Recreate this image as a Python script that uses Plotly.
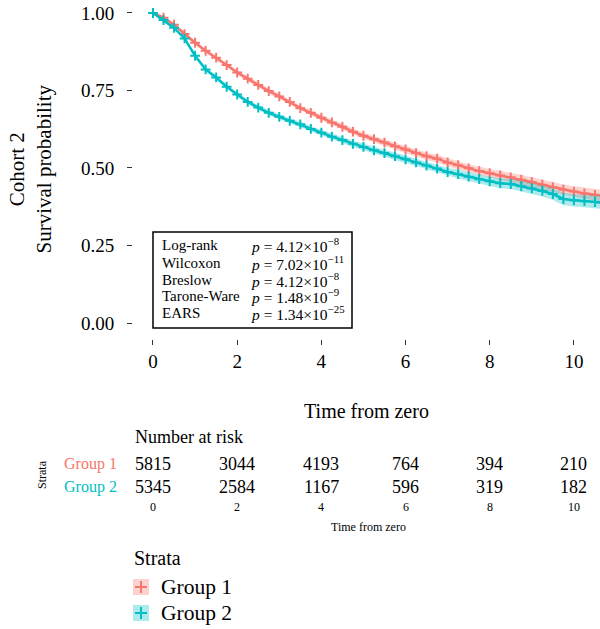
import plotly.graph_objects as go

# ---------------- data ----------------
times = [0, 0.25, 0.5, 0.75, 1.0, 1.25, 1.5, 1.75, 2.0, 2.25, 2.5, 2.75, 3.0, 3.25, 3.5, 3.75,
         4.0, 4.25, 4.5, 4.75, 5.0, 5.25, 5.5, 5.75, 6.0, 6.25, 6.5, 6.75, 7.0, 7.25, 7.5, 7.75,
         8.0, 8.25, 8.5, 8.75, 9.0, 9.25, 9.5, 9.75, 10.0, 10.25, 10.5, 10.65]
surv_g1 = [1.000, 0.985, 0.962, 0.932, 0.904, 0.878, 0.856, 0.832, 0.808, 0.788, 0.768, 0.748,
           0.731, 0.713, 0.693, 0.678, 0.662, 0.647, 0.633, 0.617, 0.604, 0.593, 0.582, 0.570,
           0.560, 0.548, 0.538, 0.530, 0.518, 0.509, 0.499, 0.490, 0.483, 0.476, 0.470, 0.462,
           0.454, 0.446, 0.438, 0.430, 0.424, 0.418, 0.413, 0.412]
surv_g2 = [1.000, 0.977, 0.952, 0.918, 0.862, 0.818, 0.792, 0.762, 0.737, 0.713, 0.695, 0.678,
           0.665, 0.652, 0.641, 0.626, 0.614, 0.601, 0.590, 0.578, 0.568, 0.557, 0.548, 0.538,
           0.528, 0.518, 0.508, 0.498, 0.487, 0.480, 0.472, 0.464, 0.457, 0.451, 0.448, 0.441,
           0.434, 0.426, 0.416, 0.400, 0.396, 0.393, 0.390, 0.389]
ci_half_g1 = [0.000, 0.004, 0.005, 0.005, 0.006, 0.006, 0.006, 0.006, 0.007, 0.007, 0.007, 0.008,
              0.008, 0.008, 0.008, 0.009, 0.009, 0.009, 0.010, 0.010, 0.010, 0.010, 0.011, 0.011,
              0.011, 0.012, 0.012, 0.012, 0.013, 0.013, 0.013, 0.014, 0.014, 0.015, 0.015, 0.015,
              0.016, 0.016, 0.017, 0.017, 0.017, 0.018, 0.018, 0.018]
ci_half_g2 = [0.000, 0.004, 0.005, 0.005, 0.006, 0.006, 0.007, 0.007, 0.007, 0.007, 0.008, 0.008,
              0.008, 0.008, 0.009, 0.009, 0.009, 0.010, 0.010, 0.010, 0.011, 0.011, 0.011, 0.012,
              0.012, 0.012, 0.013, 0.013, 0.013, 0.014, 0.014, 0.015, 0.015, 0.016, 0.016, 0.017,
              0.017, 0.018, 0.019, 0.020, 0.020, 0.020, 0.021, 0.021]

group_names = ["Group 1", "Group 2"]
risk_times = [0, 2, 4, 6, 8, 10]
risk_g1 = [5815, 3044, 4193, 764, 394, 210]
risk_g2 = [5345, 2584, 1167, 596, 319, 182]

test_names = ["Log-rank", "Wilcoxon", "Breslow", "Tarone-Ware", "EARS"]
test_mant = ["4.12", "7.02", "4.12", "1.48", "1.34"]
test_exp = ["\u22128", "\u221211", "\u22128", "\u22129", "\u221225"]

y_ticks = [0, 0.25, 0.5, 0.75, 1.0]
x_ticks = [0, 2, 4, 6, 8, 10]

# ---------------- style ----------------
W, H = 600, 629
FONT = "Liberation Serif"
col_line = ["#F8766D", "#00BFC4"]
col_fill = ["rgba(248,118,109,0.32)", "rgba(0,191,196,0.32)"]


def px(x):
    return x / W


def py(y):
    return 1 - y / H


fig = go.Figure()

for name, surv, half, cl, cf in [
    (group_names[0], surv_g1, ci_half_g1, col_line[0], col_fill[0]),
    (group_names[1], surv_g2, ci_half_g2, col_line[1], col_fill[1]),
]:
    upper = [s + h for s, h in zip(surv, half)]
    lower = [s - h for s, h in zip(surv, half)]
    fig.add_trace(go.Scatter(x=times, y=upper, mode="lines", line=dict(width=0),
                             hoverinfo="skip", showlegend=False))
    fig.add_trace(go.Scatter(x=times, y=lower, mode="lines", line=dict(width=0),
                             fill="tonexty", fillcolor=cf, hoverinfo="skip", showlegend=False))
    fig.add_trace(go.Scatter(x=times, y=surv, mode="lines+markers", name=name,
                             line=dict(color=cl, width=2.5),
                             marker=dict(symbol="cross-thin", size=7, line=dict(color=cl, width=2)),
                             showlegend=False))

# main axes
fig.update_layout(
    width=W, height=H,
    margin=dict(l=0, r=0, t=0, b=0),
    paper_bgcolor="white", plot_bgcolor="white",
    font=dict(family=FONT, color="black"),
    showlegend=False,
    xaxis=dict(domain=[px(133), 1.0], range=[-0.475, 10.62], showgrid=False, zeroline=False,
               showline=False, ticks="outside", ticklen=5, tickwidth=1, tickcolor="#333333",
               tickvals=x_ticks, ticktext=[str(t) for t in x_ticks], ticklabelstandoff=1,
               tickfont=dict(family=FONT, size=19, color="black"),
               title=dict(text="Time from zero", font=dict(family=FONT, size=20), standoff=32),
               automargin=False),
    yaxis=dict(domain=[py(338.5), 1.0], range=[-0.05, 1.0419], showgrid=False, zeroline=False,
               showline=False, ticks="outside", ticklen=5, tickwidth=1, tickcolor="#333333",
               tickvals=y_ticks, ticktext=["%.2f" % t for t in y_ticks], ticklabelstandoff=9,
               tickfont=dict(family=FONT, size=19, color="black"),
               title=dict(text="Cohort 2<br>Survival probability", font=dict(family=FONT, size=21),
                          standoff=23),
               automargin=False),
)

annotations = []
shapes = []

# stats box
shapes.append(dict(type="rect", xref="paper", yref="paper", x0=px(153), x1=px(352),
                   y0=py(328), y1=py(232), line=dict(color="black", width=1.5),
                   fillcolor="white", layer="above"))
row_y = [245, 262.5, 279.5, 296.5, 313]
for nm, m, e, yy in zip(test_names, test_mant, test_exp, row_y):
    annotations.append(dict(xref="paper", yref="paper", x=px(160), y=py(yy), xanchor="left",
                            yanchor="middle", showarrow=False, text=nm,
                            font=dict(family=FONT, size=15, color="black")))
    annotations.append(dict(xref="paper", yref="paper", x=px(249), y=py(yy), xanchor="left",
                            yanchor="middle", showarrow=False,
                            text="<i>p</i> = %s\u00d710<sup>%s</sup>" % (m, e),
                            font=dict(family=FONT, size=15.5, color="black")))

# risk table
annotations.append(dict(xref="paper", yref="paper", x=px(133), y=py(437), xanchor="left",
                        yanchor="middle", showarrow=False, text="Number at risk",
                        font=dict(family=FONT, size=18, color="black")))
for g, (nm, vals, cl, yy) in enumerate(zip(group_names, [risk_g1, risk_g2], col_line, [464, 487])):
    annotations.append(dict(xref="paper", yref="paper", x=px(119), y=py(yy), xanchor="right",
                            yanchor="middle", showarrow=False, text=nm,
                            font=dict(family=FONT, size=16, color=cl)))
    for t, v in zip(risk_times, vals):
        annotations.append(dict(xref="x", yref="paper", x=t, y=py(yy), xanchor="center",
                                yanchor="middle", showarrow=False, text=str(v),
                                font=dict(family=FONT, size=18, color="black")))
for t in risk_times:
    annotations.append(dict(xref="x", yref="paper", x=t, y=py(507), xanchor="center",
                            yanchor="middle", showarrow=False, text=str(t),
                            font=dict(family=FONT, size=12, color="black")))
annotations.append(dict(xref="paper", yref="paper", x=px(368), y=py(527), xanchor="center",
                        yanchor="middle", showarrow=False, text="Time from zero",
                        font=dict(family=FONT, size=12, color="black")))
annotations.append(dict(xref="paper", yref="paper", x=px(42), y=py(475), xanchor="center",
                        yanchor="middle", showarrow=False, text="Strata", textangle=-90,
                        font=dict(family=FONT, size=12, color="black")))

# legend (manual)
annotations.append(dict(xref="paper", yref="paper", x=px(132), y=py(558), xanchor="left",
                        yanchor="middle", showarrow=False, text="Strata",
                        font=dict(family=FONT, size=20, color="black")))
for nm, cl, cf, yc in zip(group_names, col_line, col_fill, [587, 613]):
    shapes.append(dict(type="rect", xref="paper", yref="paper", x0=px(133), x1=px(149),
                       y0=py(yc + 8), y1=py(yc - 8), line=dict(width=0), fillcolor=cf))
    shapes.append(dict(type="line", xref="paper", yref="paper", x0=px(135), x1=px(147),
                       y0=py(yc), y1=py(yc), line=dict(color=cl, width=2)))
    shapes.append(dict(type="line", xref="paper", yref="paper", x0=px(141), x1=px(141),
                       y0=py(yc - 6), y1=py(yc + 6), line=dict(color=cl, width=2)))
    annotations.append(dict(xref="paper", yref="paper", x=px(159), y=py(yc), xanchor="left",
                            yanchor="middle", showarrow=False, text=nm,
                            font=dict(family=FONT, size=21.5, color="black")))

fig.update_layout(annotations=annotations, shapes=shapes)
fig.write_html("out.html")
